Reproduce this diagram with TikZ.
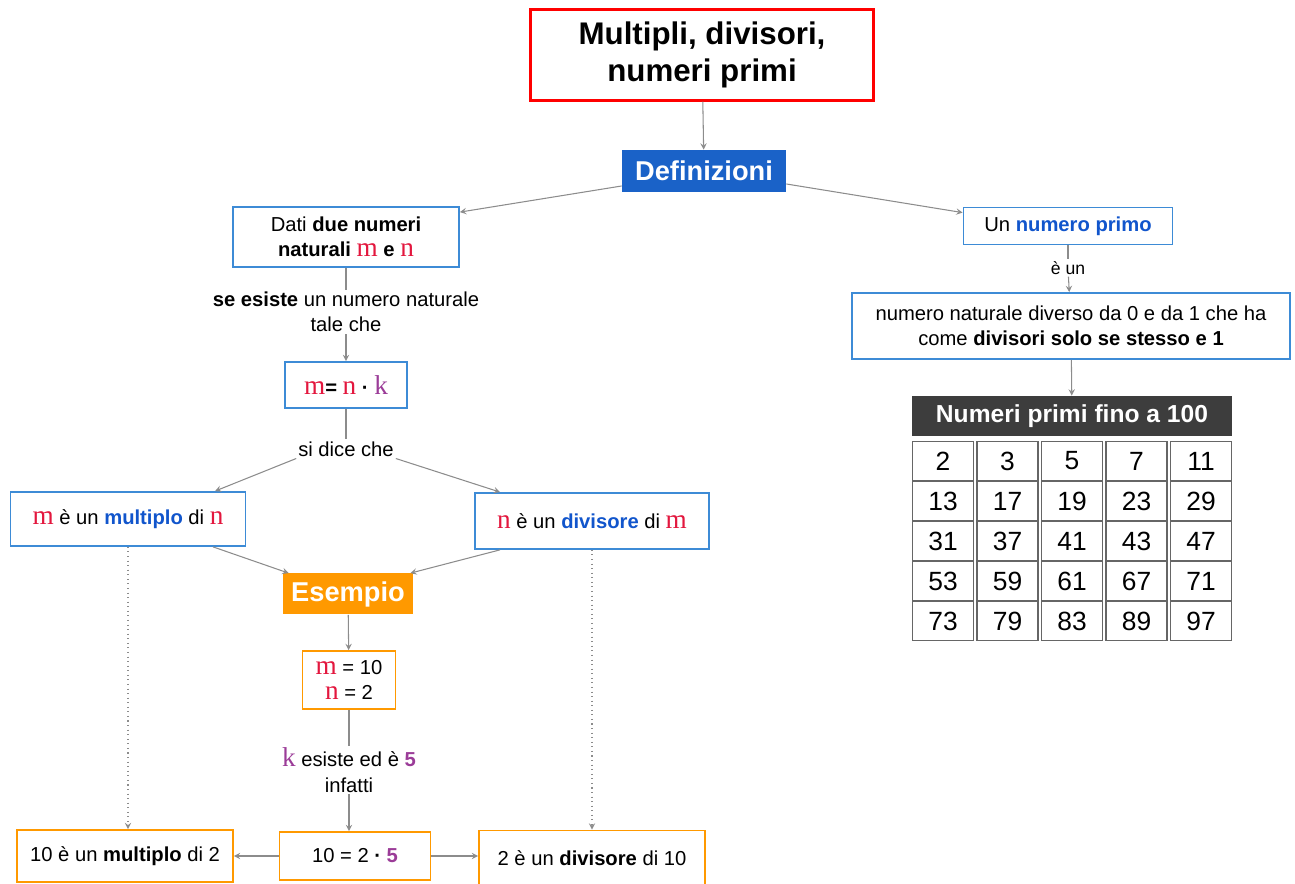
\documentclass[tikz,border=0pt]{standalone}
\usepackage{fontspec}
\setmainfont{Liberation Sans}
\newfontfamily\lettere{Liberation Serif}
\usetikzlibrary{arrows}

\definecolor{rossom}{HTML}{E3173E}
\definecolor{violak}{HTML}{9B3C98}
\definecolor{bluetesto}{HTML}{1155CC}
\definecolor{bordoblu}{HTML}{3D8BD6}
\definecolor{fondoblu}{HTML}{1A62C8}
\definecolor{arancio}{HTML}{FF9900}
\definecolor{grigiofreccia}{HTML}{8C8C8C}
\definecolor{grigioscuro}{HTML}{3D3D3D}

% Lettere m, n, k
\newcommand{\lettm}{{\lettere\fontsize{15.5pt}{14pt}\selectfont\color{rossom}m}}
\newcommand{\lettn}{{\lettere\fontsize{15.5pt}{14pt}\selectfont\color{rossom}n}}
\newcommand{\lettk}{{\lettere\fontsize{15.5pt}{14pt}\selectfont\color{violak}k}}

\begin{document}
\begin{tikzpicture}[
    font=\fontsize{11.5pt}{14.5pt}\selectfont,
    % Stili dei nodi
    titolo/.style={
        rectangle, draw=red, line width=1.2pt, fill=white,
        minimum width=6.86cm, minimum height=1.82cm,
        align=center, font=\fontsize{17.8pt}{21pt}\selectfont\bfseries
    },
    testata/.style={
        rectangle, text=white, inner sep=2pt,
        font=\fontsize{15.5pt}{16pt}\selectfont\bfseries
    },
    boxblu/.style={
        rectangle, draw=bordoblu, line width=1pt, fill=white,
        align=center, inner sep=2pt
    },
    boxarancio/.style={
        rectangle, draw=arancio, line width=1pt, fill=white,
        align=center, inner sep=2pt
    },
    etichetta/.style={align=center, inner sep=1pt},
    cella/.style={
        rectangle, draw=black!60, line width=1pt, fill=white,
        minimum width=1.22cm, minimum height=0.78cm,
        font=\fontsize{15pt}{15pt}\selectfont
    },
    arrow/.style={->, >=stealth, draw=grigiofreccia, line width=0.6pt},
    linea/.style={draw=grigiofreccia, line width=0.6pt},
    puntini/.style={->, >=stealth, draw=grigiofreccia, line width=0.6pt, dotted}
]
\useasboundingbox (0,0) rectangle (25.9,17.68);

% Titolo
\node[titolo] (titolo) at (14.04,16.58) {Multipli, divisori,\\numeri primi};

% Definizioni
\node[testata, fill=fondoblu, minimum width=3.28cm, minimum height=0.84cm]
    (definizioni) at (14.08,14.26) {Definizioni};

% Ramo sinistro
\node[boxblu, minimum width=4.52cm, minimum height=1.2cm] (dati) at (6.92,12.94)
    {Dati \textbf{due numeri}\\\textbf{naturali} \lettm\ \textbf{e} \lettn};
\node[etichetta] (seesiste) at (6.92,11.44)
    {\textbf{se esiste} un numero naturale\\tale che};
\node[boxblu, minimum width=2.44cm, minimum height=0.92cm] (formula) at (6.92,9.98)
    {\lettm\textbf{=} \lettn\ \textbf{·} \lettk};
\node[etichetta] (sidice) at (6.92,8.7) {si dice che};

\node[boxblu, minimum width=4.7cm, minimum height=1.08cm] (multiplo) at (2.56,7.3)
    {\lettm\ è un \textcolor{bluetesto}{\textbf{multiplo}} di \lettn};
\node[boxblu, minimum width=4.68cm, minimum height=1.12cm] (divisore) at (11.84,7.26)
    {\lettn\ è un \textcolor{bluetesto}{\textbf{divisore}} di \lettm};

% Esempio
\node[testata, fill=arancio, minimum width=2.6cm, minimum height=0.82cm]
    (esempio) at (6.96,5.8) {Esempio};
\node[boxarancio, minimum width=1.86cm, minimum height=1.16cm] (valori) at (6.98,4.08)
    {\lettm\ = 10\\\lettn\ = 2};
\node[etichetta] (kesiste) at (6.98,2.28)
    {\lettk\ esiste ed è \textcolor{violak}{\textbf{5}}\\infatti};

\node[boxarancio, minimum width=4.32cm, minimum height=1.04cm] (multes) at (2.5,0.56)
    {10 è un \textbf{multiplo} di 2};
\node[boxarancio, minimum width=3.02cm, minimum height=0.96cm] (calcolo) at (7.1,0.56)
    {10 = 2 \textbf{·} \textcolor{violak}{\textbf{5}}};
\node[boxarancio, minimum width=4.52cm, minimum height=1.1cm] (divies) at (11.84,0.52)
    {2 è un \textbf{divisore} di 10};

% Ramo destro
\node[boxblu, minimum width=4.18cm, minimum height=0.74cm] (primo) at (21.36,13.16)
    {Un \textcolor{bluetesto}{\textbf{numero primo}}};
\node[etichetta, font=\fontsize{10pt}{11pt}\selectfont] (eun) at (21.36,12.32) {è un};
\node[boxblu, minimum width=8.76cm, minimum height=1.32cm] (naturale) at (21.42,11.16)
    {numero naturale diverso da 0 e da 1 che ha\\come \textbf{divisori solo se stesso e 1}};

% Tabella numeri primi
\node[rectangle, fill=grigioscuro, text=white, minimum width=6.4cm, minimum height=0.8cm,
      font=\fontsize{14pt}{14pt}\selectfont\bfseries]
    (tabella) at (21.44,9.36) {Numeri primi fino a 100};

\node[cella] (c1) at (18.86,8.46) {2};
\node[cella] (c2) at (20.15,8.46) {3};
\node[cella] (c3) at (21.44,8.46) {5};
\node[cella] (c4) at (22.73,8.46) {7};
\node[cella] (c5) at (24.02,8.46) {11};

\node[cella] (c6) at (18.86,7.66) {13};
\node[cella] (c7) at (20.15,7.66) {17};
\node[cella] (c8) at (21.44,7.66) {19};
\node[cella] (c9) at (22.73,7.66) {23};
\node[cella] (c10) at (24.02,7.66) {29};

\node[cella] (c11) at (18.86,6.86) {31};
\node[cella] (c12) at (20.15,6.86) {37};
\node[cella] (c13) at (21.44,6.86) {41};
\node[cella] (c14) at (22.73,6.86) {43};
\node[cella] (c15) at (24.02,6.86) {47};

\node[cella] (c16) at (18.86,6.06) {53};
\node[cella] (c17) at (20.15,6.06) {59};
\node[cella] (c18) at (21.44,6.06) {61};
\node[cella] (c19) at (22.73,6.06) {67};
\node[cella] (c20) at (24.02,6.06) {71};

\node[cella] (c21) at (18.86,5.26) {73};
\node[cella] (c22) at (20.15,5.26) {79};
\node[cella] (c23) at (21.44,5.26) {83};
\node[cella] (c24) at (22.73,5.26) {89};
\node[cella] (c25) at (24.02,5.26) {97};

% Connessioni
\draw[arrow] (titolo) -- (definizioni);
\draw[arrow] ([yshift=-0.3cm]definizioni.west) -- ([yshift=-0.12cm]dati.north east);
\draw[arrow] ([yshift=-0.26cm]definizioni.east) -- ([yshift=-0.12cm]primo.north west);

\draw[linea] (dati) -- (seesiste);
\draw[arrow] (seesiste) -- (formula);
\draw[linea] (formula) -- (sidice);
\draw[arrow] (sidice.south west) -- ([xshift=1.74cm]multiplo.north);
\draw[arrow] (sidice.south east) -- ([xshift=-1.84cm]divisore.north);

\draw[arrow] ([xshift=1.7cm]multiplo.south) -- ([xshift=0.12cm]esempio.north west);
\draw[arrow] ([xshift=-1.84cm]divisore.south) -- ([xshift=-0.06cm]esempio.north east);
\draw[arrow] (esempio) -- (valori);
\draw[linea] (valori) -- (kesiste);
\draw[arrow] (kesiste) -- (kesiste |- calcolo.north);
\draw[arrow] (calcolo) -- (multes);
\draw[arrow] (calcolo) -- (calcolo -| divies.west);

% Linee tratteggiate
\draw[puntini] (multiplo.south) -- (multiplo.south |- multes.north);
\draw[puntini] (divisore.south) -- (divisore.south |- divies.north);

% Numero primo
\draw[linea] (primo) -- (eun);
\draw[arrow] (eun) -- (naturale);
\draw[arrow] (naturale) -- (tabella);

\end{tikzpicture}
\end{document}
